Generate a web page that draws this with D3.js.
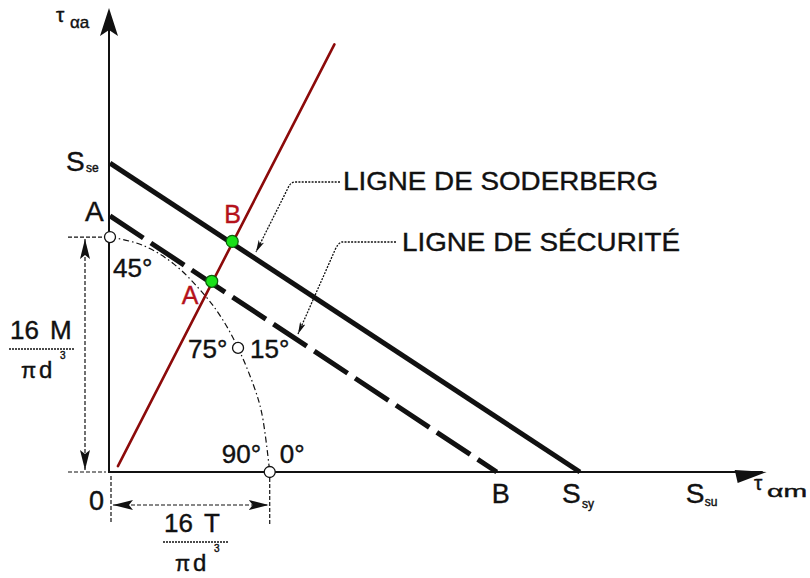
<!DOCTYPE html>
<html>
<head>
<meta charset="utf-8">
<script src="https://cdn.jsdelivr.net/npm/d3@7"></script>
<style>
  html, body { margin: 0; padding: 0; background: #fff; }
  svg { display: block; font-family: "Liberation Sans", Arial, Helvetica, sans-serif; }
</style>
</head>
<body>
<svg id="chart" width="810" height="578"></svg>
<script>
// ---- Diagram quantities (shear stress units) ----
// Straight lines: [name, intercept on τ_αa axis, intercept on τ_αm axis]
const lineNames = ["LIGNE DE SODERBERG", "LIGNE DE SÉCURITÉ"];
const tauAxisIntercepts = [46.8, 38.8];   // S_se , A
const meanAxisIntercepts = [71.2, 58.6];  // S_sy , B
const ultimateShear = 88;                 // S_su position on the mean axis

// Load line through the operating points
const loadLineStart = [1.2, 0.9];
const loadLineEnd = [34.0, 64.8];

// Stress components
const bendingStress = 35.6;   // 16M / πd³
const torsionStress = 24.2;   // 16T / πd³

// Construction arc between the two stress components (read points)
const arcX = [0, 4.85, 9.7, 14.5, 17.0, 19.4, 21.8, 23.0, 24.2];
const arcY = [35.6, 34.4, 31.5, 26.6, 23.2, 18.8, 13.0, 8.9, 0];
const arcMidIndex = 5;

// Angle labels along the arc
const angleTop = ["45°"];
const angleMid = ["75°", "15°"];
const angleBottom = ["90°", "0°"];

const svg = d3.select("#chart");
const x = d3.scaleLinear().domain([0, 100]).range([110, 770]);
const y = d3.scaleLinear().domain([0, 70]).range([472, 10]);

const red = "#b5121b";
const ink = "#111";

// arrowhead markers
const defs = svg.append("defs");
defs.append("marker").attr("id", "lead").attr("viewBox", "0 0 12 6")
  .attr("refX", 12).attr("refY", 3).attr("markerWidth", 12).attr("markerHeight", 6)
  .attr("markerUnits", "userSpaceOnUse").attr("orient", "auto")
  .append("path").attr("d", "M0,0 L12,3 L0,6 L3,3 Z").attr("fill", ink);
defs.append("marker").attr("id", "dim").attr("viewBox", "0 0 20 10")
  .attr("refX", 20).attr("refY", 5).attr("markerWidth", 20).attr("markerHeight", 10)
  .attr("markerUnits", "userSpaceOnUse").attr("orient", "auto-start-reverse")
  .append("path").attr("d", "M0,0 L20,5 L0,10 L4,5 Z").attr("fill", ink);

// ---- axes ----
svg.append("line").attr("x1", x(0) - 1).attr("x2", x(0) - 1)
  .attr("y1", y(70) + 20).attr("y2", y(0) + 1)
  .attr("stroke", ink).attr("stroke-width", 2);
svg.append("path")
  .attr("d", `M${x(0) - 1},${y(70) - 2} L${x(0) - 10},${y(70) + 26} L${x(0) - 1},${y(70) + 20} L${x(0) + 8},${y(70) + 26} Z`)
  .attr("fill", ink);
svg.append("line").attr("x1", x(0) - 1).attr("x2", x(99.5) - 4)
  .attr("y1", y(0)).attr("y2", y(0))
  .attr("stroke", ink).attr("stroke-width", 2);
svg.append("path")
  .attr("d", `M${x(99.5)},${y(0)} L${x(99.5) - 32},${y(0) - 2} L${x(99.5) - 29},${y(0) + 11} Z`)
  .attr("fill", ink);

// ---- dimension lines ----
const dimStyle = sel => sel.attr("stroke", ink).attr("stroke-width", 1.2).attr("stroke-dasharray", "4,2").attr("fill", "none");
// extension lines
svg.append("line").attr("x1", 68).attr("x2", x(0) - 4).attr("y1", y(bendingStress)).attr("y2", y(bendingStress)).call(dimStyle);
svg.append("line").attr("x1", 68).attr("x2", x(0) - 4).attr("y1", y(0)).attr("y2", y(0)).call(dimStyle);
svg.append("line").attr("x1", x(0) + 1).attr("x2", x(0) + 1).attr("y1", y(0) + 4).attr("y2", y(0) + 52).call(dimStyle);
svg.append("line").attr("x1", x(torsionStress)).attr("x2", x(torsionStress)).attr("y1", y(0) + 6).attr("y2", y(0) + 54).call(dimStyle);
// measured distances
svg.append("line").attr("x1", 85).attr("x2", 85)
  .attr("y1", y(bendingStress) + 2).attr("y2", y(0) - 2).call(dimStyle)
  .attr("marker-start", "url(#dim)").attr("marker-end", "url(#dim)");
svg.append("line").attr("x1", x(0) + 3).attr("x2", x(torsionStress) - 1)
  .attr("y1", y(0) + 33).attr("y2", y(0) + 33).call(dimStyle)
  .attr("marker-start", "url(#dim)").attr("marker-end", "url(#dim)");

// ---- construction arc ----
const arcPts = arcX.map((v, i) => [x(v), y(arcY[i])]);
svg.append("path")
  .attr("d", d3.line().curve(d3.curveCatmullRom)(arcPts))
  .attr("fill", "none").attr("stroke", ink).attr("stroke-width", 1.2)
  .attr("stroke-dasharray", "6,3,1.5,3");

// ---- Soderberg and safety lines ----
lineNames.forEach((name, i) => {
  svg.append("line")
    .attr("x1", x(0)).attr("y1", y(tauAxisIntercepts[i]))
    .attr("x2", x(meanAxisIntercepts[i])).attr("y2", y(0))
    .attr("stroke", ink).attr("stroke-width", 5)
    .attr("stroke-dasharray", i === 1 ? "40,9" : null);
});

// ---- load line ----
svg.append("line")
  .attr("x1", x(loadLineStart[0])).attr("y1", y(loadLineStart[1]))
  .attr("x2", x(loadLineEnd[0])).attr("y2", y(loadLineEnd[1]))
  .attr("stroke", "#8c0a0a").attr("stroke-width", 2.6).attr("stroke-linecap", "round");

// intersection of the load line with each straight line
function intersect(i) {
  const [x1, y1] = loadLineStart, [x2, y2] = loadLineEnd;
  const m = (y2 - y1) / (x2 - x1);
  const s = -tauAxisIntercepts[i] / meanAxisIntercepts[i];
  const xi = (tauAxisIntercepts[i] - y1 + m * x1) / (m - s);
  return [xi, tauAxisIntercepts[i] + s * xi];
}
const operating = [intersect(0), intersect(1)];

// hollow construction points
[[0, bendingStress], [torsionStress, 0], [arcX[arcMidIndex], arcY[arcMidIndex]]].forEach(p => {
  svg.append("circle").attr("cx", x(p[0])).attr("cy", y(p[1])).attr("r", 5.5)
    .attr("fill", "#fff").attr("stroke", ink).attr("stroke-width", 1.3);
});

// operating points
operating.forEach(p => {
  svg.append("circle").attr("cx", x(p[0])).attr("cy", y(p[1]) - 2).attr("r", 6)
    .attr("fill", "#19e019").attr("stroke", "#0b5e0b").attr("stroke-width", 1.2);
});

// ---- leaders ----
const leadStyle = sel => sel.attr("fill", "none").attr("stroke", ink).attr("stroke-width", 1.3)
  .attr("stroke-dasharray", "2,1.3").attr("marker-end", "url(#lead)");
svg.append("path").attr("d", "M340,182 L294,182 Q290,183 288,188 L256,252").call(leadStyle);
svg.append("path").attr("d", "M396,242 L342,242 Q338,243 335,250 L298,334").call(leadStyle);

// ---- texts ----
const t = (px, py, str, size, color, anchor) =>
  svg.append("text").attr("x", px).attr("y", py).attr("font-size", size)
    .attr("fill", color || ink).attr("stroke", color || ink).attr("stroke-width", 0.4)
    .attr("text-anchor", anchor || "start").text(str);

t(343, 190, lineNames[0], 26).attr("textLength", 315).attr("lengthAdjust", "spacingAndGlyphs");
t(402, 251, lineNames[1], 26).attr("textLength", 278).attr("lengthAdjust", "spacingAndGlyphs");

// axis titles
t(56, 22, "τ", 21);
t(70, 28, "αa", 17);
t(754, 490, "τ", 21);
t(767, 497, "αm", 17).attr("textLength", 40).attr("lengthAdjust", "spacingAndGlyphs");

// intercept labels
t(66, 171, "S", 28); t(86, 172, "se", 12);
t(x(0) - 25, y(tauAxisIntercepts[1]) + 5, "A", 28);
t(x(meanAxisIntercepts[1]) - 5, 503, "B", 27);
t(x(meanAxisIntercepts[0]) - 18, 503, "S", 28); t(x(meanAxisIntercepts[0]) + 2, 508, "sy", 12);
t(x(ultimateShear) - 5, 503, "S", 28); t(x(ultimateShear) + 14, 506, "su", 12);
t(89, 510, "0", 27);

// operating point labels
t(x(operating[0][0]) - 8, y(operating[0][1]) - 20, "B", 25, red);
t(x(operating[1][0]) - 30, y(operating[1][1]) + 21, "A", 25, red);

// angle labels
t(113, 277, angleTop[0], 26);
t(x(arcX[arcMidIndex]) - 50, y(arcY[arcMidIndex]) + 10, angleMid[0], 26);
t(x(arcX[arcMidIndex]) + 12, y(arcY[arcMidIndex]) + 10, angleMid[1], 26);
t(x(torsionStress) - 48, y(0) - 9, angleBottom[0], 26);
t(x(torsionStress) + 10, y(0) - 9, angleBottom[1], 26);

// fractions 16M/πd³ and 16T/πd³
function fraction(cx, top, letter) {
  t(cx - 32, top + 20, "16", 26);
  t(cx + 8, top + 20, letter, 26);
  svg.append("line").attr("x1", cx - 33).attr("x2", cx + 33)
    .attr("y1", top + 30).attr("y2", top + 30)
    .attr("stroke", ink).attr("stroke-width", 1.3).attr("stroke-dasharray", "2,1");
  t(cx - 21, top + 59, "π", 22);
  t(cx - 3, top + 59, "d", 24);
  t(cx + 18, top + 40, "3", 10);
}
fraction(42, 319, "M");
fraction(196, 512, "T");
</script>
</body>
</html>
